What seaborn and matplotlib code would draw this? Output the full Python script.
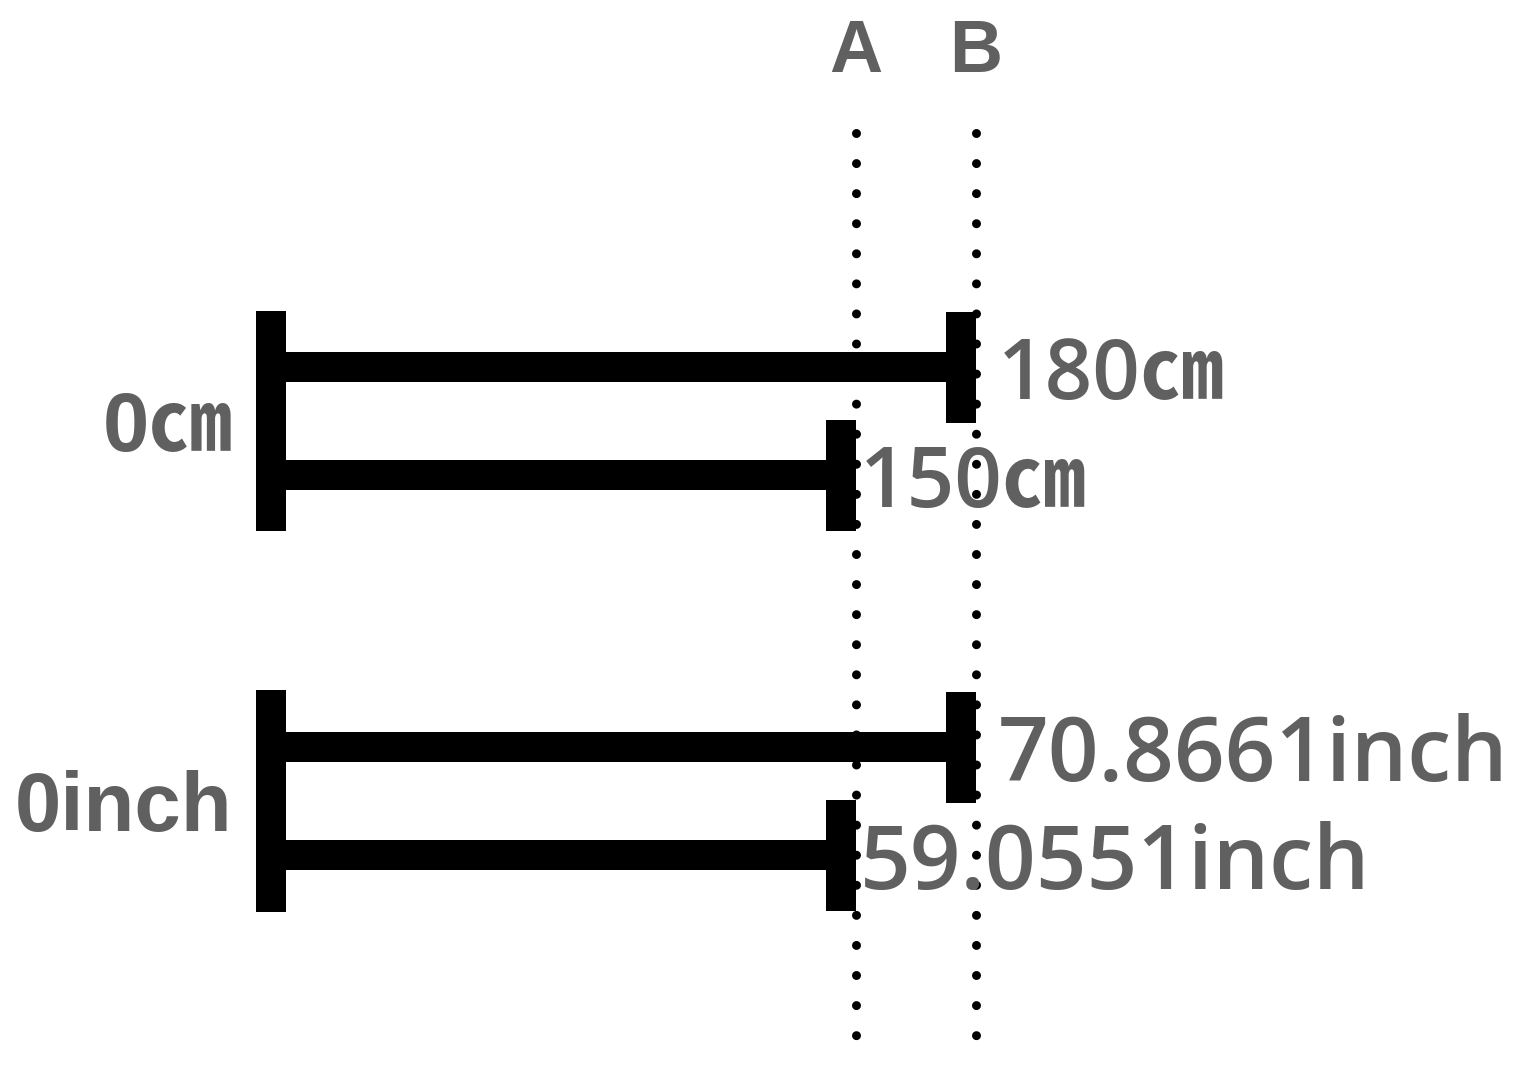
import matplotlib
matplotlib.use("Agg")
import matplotlib.pyplot as plt
import seaborn as sns

# data
cm_values = [180, 150]
inch_values = [70.8661, 59.0551]
cm_labels = ["180㎝", "150㎝"]
inch_labels = ["70.8661inch", "59.0551inch"]
group_labels = ["0㎝", "0inch"]
line_labels = ["A", "B"]
line_values = [150, 180]
CM_PER_INCH = 2.54

sns.set_theme(style="white")
plt.rcParams["font.family"] = ["Liberation Sans", "Noto Sans CJK JP", "DejaVu Sans"]
VALUE_FONT = ["Open Sans", "Noto Sans CJK JP", "DejaVu Sans"]

GRAY = "#606060"
fig = plt.figure(figsize=(15.24, 10.72), dpi=100)
ax = fig.add_axes([0, 0, 1, 1])
ax.set_xlim(-64, 317)
ax.set_ylim(1072, 0)
ax.axis("off")

# layout (y in pixel rows)
bar_h = 30
cap_w = 7.5
cap_h = 111
group_rows = [[367, 475], [747, 855]]
group_caps = [(311, 531), (690, 912)]
label_gap = [5.5, 1.0]

groups = [
    (cm_values, cm_labels, 60),
    ([v * CM_PER_INCH for v in inch_values], inch_labels, 64),
]

kw = dict(color="black", edgecolor="none", linewidth=0)
for gi, (vals, labels, fs) in enumerate(groups):
    top, bot = group_caps[gi]
    ax.bar(0, bot - top, width=cap_w, bottom=top, align="edge", **kw)
    for ri, (v, lab) in enumerate(zip(vals, labels)):
        y = group_rows[gi][ri]
        ax.barh(y, v, height=bar_h, left=0, **kw)
        ax.barh(y, cap_w, height=cap_h, left=v - cap_w, **kw)
        ax.text(v + label_gap[ri], y, lab, ha="left", va="center_baseline",
                fontsize=fs, color=GRAY, family=VALUE_FONT, fontweight="semibold")
    ax.text(-6, (top + bot) / 2, group_labels[gi], ha="right", va="center_baseline",
            fontsize=60, color=GRAY, fontweight="bold")

for lab, v in zip(line_labels, line_values):
    ax.plot([v, v], [133, 1050], color="black", lw=6.5,
            linestyle=(0, (0.001, 3.33)), dash_capstyle="round")
    ax.text(v, 52, lab, ha="center", va="center", fontsize=53,
            color=GRAY, fontweight="bold")

fig.savefig("out.png", dpi=100)
